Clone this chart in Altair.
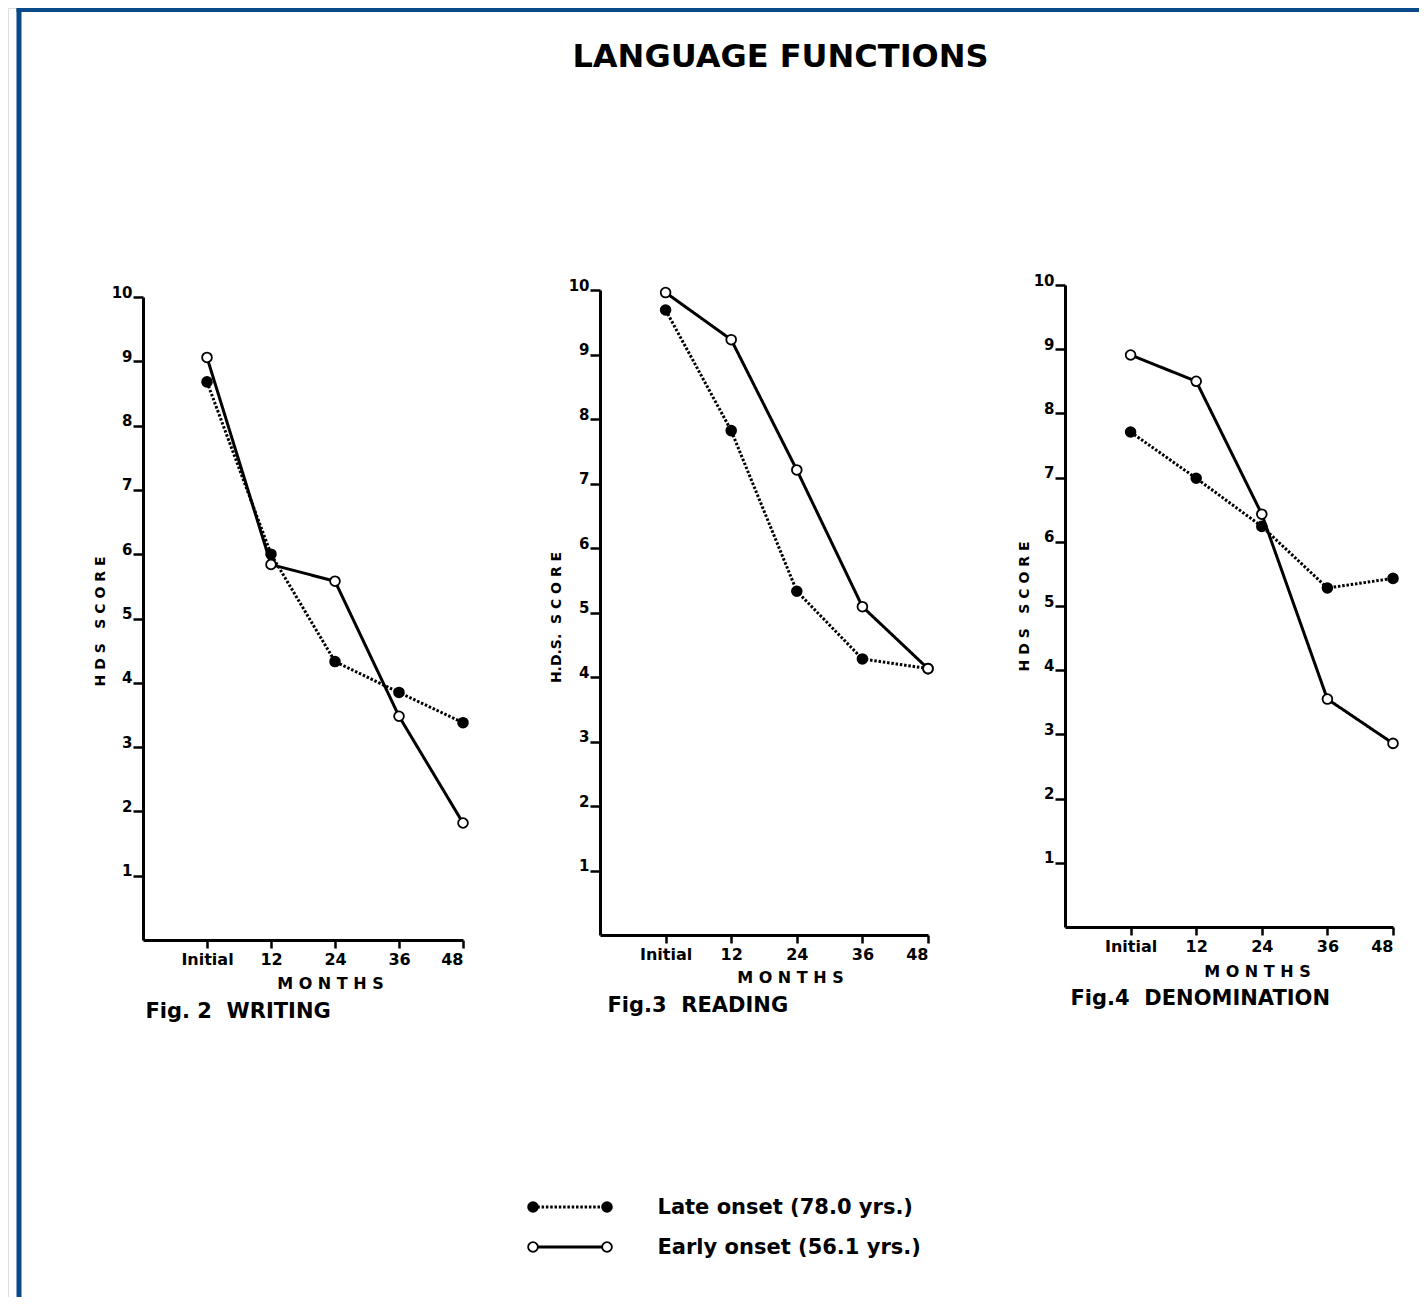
import altair as alt
import pandas as pd

# ---------------- data ----------------
MONTHS = [0, 12, 24, 36, 48]
MONTH_LABELS = ["Initial", "12", "24", "36", "48"]
SCORE_TICKS = [1, 2, 3, 4, 5, 6, 7, 8, 9, 10]

LATE = "Late onset (78.0 yrs.)"
EARLY = "Early onset (56.1 yrs.)"
SERIES = [LATE, EARLY]

writing_late = [8.68, 6.00, 4.33, 3.85, 3.38]
writing_early = [9.06, 5.84, 5.58, 3.48, 1.82]
reading_late = [9.69, 7.82, 5.33, 4.28, 4.13]
reading_early = [9.96, 9.23, 7.21, 5.09, 4.13]
denom_late = [7.71, 6.99, 6.24, 5.28, 5.43]
denom_early = [8.91, 8.50, 6.43, 3.55, 2.86]

NB = "\u00a0"
PANEL_CAPTIONS = ["Fig." + NB + "2" + NB + NB + "WRITING",
                  "Fig.3" + NB + NB + "READING",
                  "Fig.4" + NB + NB + "DENOMINATION"]
PANEL_YTITLES = ["H D S" + NB + NB + NB + "S C O R E",
                 "H.D.S." + NB + NB + "S C O R E",
                 "H D S" + NB + NB + NB + "S C O R E"]
X_TITLE = "M O N T H S"
MAIN_TITLE = "LANGUAGE FUNCTIONS"
LEGEND_POS = [0, 1]

# ---------------- layout / style ----------------
W, H = 1411, 1289
FONT = "DejaVu Sans"
BLUE = "#0b4a8a"

label_expr = "".join(
    f"datum.value == {m} ? '{l}' : " for m, l in zip(MONTHS, MONTH_LABELS)
) + "''"

dash_scale = alt.Scale(domain=SERIES, range=[[2.5, 1.8], [1, 0]])
fill_scale = alt.Scale(domain=SERIES, range=["black", "white"])


def make_df(late, early):
    rows = []
    for s, vals in ((LATE, late), (EARLY, early)):
        for m, v in zip(MONTHS, vals):
            rows.append({"series": s, "month": m, "score": v})
    return pd.DataFrame(rows)


# per panel: x range, y range (view px), y-title pos, x-title pos, caption pos
PANELS = [
    dict(df=make_df(writing_late, writing_early), xr=[135, 455], yr=[932, 289],
         ytx=-43, yty=613, xtx=322, xty=48, ctx=137, cty=77),
    dict(df=make_df(reading_late, reading_early), xr=[592, 920], yr=[927, 282],
         ytx=-44, yty=609, xtx=782, xty=47, ctx=599, cty=76),
    dict(df=make_df(denom_late, denom_early), xr=[1057, 1385], yr=[919, 277],
         ytx=-41, yty=598, xtx=1249, xty=49, ctx=1062, cty=77),
]


def panel(p, caption, ytitle):
    xscale = alt.Scale(domain=[-12, 48], range=p["xr"], nice=False, zero=False)
    yscale = alt.Scale(domain=[0, 10], range=p["yr"], nice=False)
    x_off = p["yr"][0] - H
    x_axis = alt.Axis(
        orient="bottom", offset=x_off, values=MONTHS, labelExpr=label_expr,
        title=X_TITLE, titleX=p["xtx"], titleY=p["xty"], titleAlign="center",
        titleBaseline="alphabetic", titleFontSize=16, titleFontWeight="bold",
        titleFont=FONT, titleColor="black",
        tickSize=8, tickWidth=2.5, tickColor="black", domainWidth=3,
        domainColor="black", labelPadding=3, labelFontSize=16,
        labelFontWeight="bold", labelFont=FONT, labelColor="black", grid=False,
    )
    cap_axis = alt.Axis(
        orient="bottom", offset=x_off, labels=False, ticks=False, domain=False,
        grid=False, title=caption, titleX=p["ctx"], titleY=p["cty"],
        titleAlign="left", titleBaseline="alphabetic", titleFontSize=21,
        titleFontWeight="bold", titleFont=FONT, titleColor="black",
    )
    y_axis = alt.Axis(
        orient="left", offset=-p["xr"][0], values=SCORE_TICKS, title=ytitle,
        titleX=p["ytx"], titleY=p["yty"], titleAngle=270, titleAlign="center",
        titleBaseline="middle", titleFontSize=14, titleFontWeight="bold",
        titleFont=FONT, titleColor="black",
        tickSize=10, tickWidth=2.5, tickColor="black", domainWidth=3,
        domainColor="black", labelPadding=1, labelFontSize=15,
        labelFontWeight="bold", labelFont=FONT, labelColor="black",
        labelBaseline="alphabetic", grid=False,
    )
    base = alt.Chart(p["df"])
    line = base.mark_line(color="black", strokeWidth=3).encode(
        x=alt.X("month:Q", scale=xscale, axis=x_axis),
        y=alt.Y("score:Q", scale=yscale, axis=y_axis),
        strokeDash=alt.StrokeDash("series:N", scale=dash_scale, legend=None),
        order="month:Q",
    )
    pts = base.mark_circle(size=95, stroke="black", strokeWidth=1.8, opacity=1).encode(
        x=alt.X("month:Q", scale=xscale, axis=cap_axis),
        y=alt.Y("score:Q", scale=yscale, axis=y_axis),
        fill=alt.Fill("series:N", scale=fill_scale, legend=None),
    )
    return alt.layer(line, pts).resolve_axis(x="independent")


# ---------------- frame + main title ----------------
frame_df = pd.DataFrame({"f": [0.5]})
frame = alt.Chart(frame_df).mark_point(opacity=0).encode(
    x=alt.X("f:Q", scale=alt.Scale(domain=[0, 1], range=[8, W]),
            axis=alt.Axis(orient="top", offset=-1, domainColor=BLUE, domainWidth=5,
                          ticks=False, labels=False, grid=False, title=MAIN_TITLE,
                          titleX=772, titleY=57, titleAlign="center",
                          titleBaseline="alphabetic", titleFontSize=32,
                          titleFontWeight="bold", titleFont=FONT, titleColor="black")),
    y=alt.Y("f:Q", scale=alt.Scale(domain=[0, 1], range=[0, H]),
            axis=alt.Axis(orient="left", offset=-10.5, domainColor=BLUE, domainWidth=5,
                          ticks=False, labels=False, grid=False, title=None)),
)

# ---------------- legend ----------------
leg_rows = [{"series": s, "pos": p} for s in SERIES for p in LEGEND_POS]
leg_df = pd.DataFrame(leg_rows)
leg_x = alt.Scale(domain=[0, 1], range=[525, 599])
leg_y = alt.Scale(type="point", domain=SERIES, range=[1199, 1239], padding=0)
leg_axis = alt.Axis(orient="right", offset=649 - W, domain=False, ticks=False,
                    labelPadding=0, labelAlign="left", labelBaseline="middle",
                    labelFontSize=21, labelFontWeight="bold", labelFont=FONT,
                    labelColor="black", labelLimit=500, grid=False, title=None)
leg_line = alt.Chart(leg_df).mark_line(color="black", strokeWidth=3).encode(
    x=alt.X("pos:Q", scale=leg_x, axis=None),
    y=alt.Y("series:N", scale=leg_y, axis=leg_axis),
    strokeDash=alt.StrokeDash("series:N", scale=dash_scale, legend=None),
    detail="series:N",
)
leg_pts = alt.Chart(leg_df).mark_circle(size=95, stroke="black", strokeWidth=1.8, opacity=1).encode(
    x=alt.X("pos:Q", scale=leg_x, axis=None),
    y=alt.Y("series:N", scale=leg_y, axis=leg_axis),
    fill=alt.Fill("series:N", scale=fill_scale, legend=None),
)
legend = alt.layer(leg_line, leg_pts)

panels = [panel(p, c, t) for p, c, t in zip(PANELS, PANEL_CAPTIONS, PANEL_YTITLES)]

chart = (
    alt.layer(frame, *panels, legend)
    .resolve_scale(x="independent", y="independent")
    .properties(width=W, height=H, padding=0, background="white")
    .configure_view(stroke=None)
    .configure(font=FONT)
)

chart.save("out.html", embed_options={"renderer": "svg", "actions": False})
